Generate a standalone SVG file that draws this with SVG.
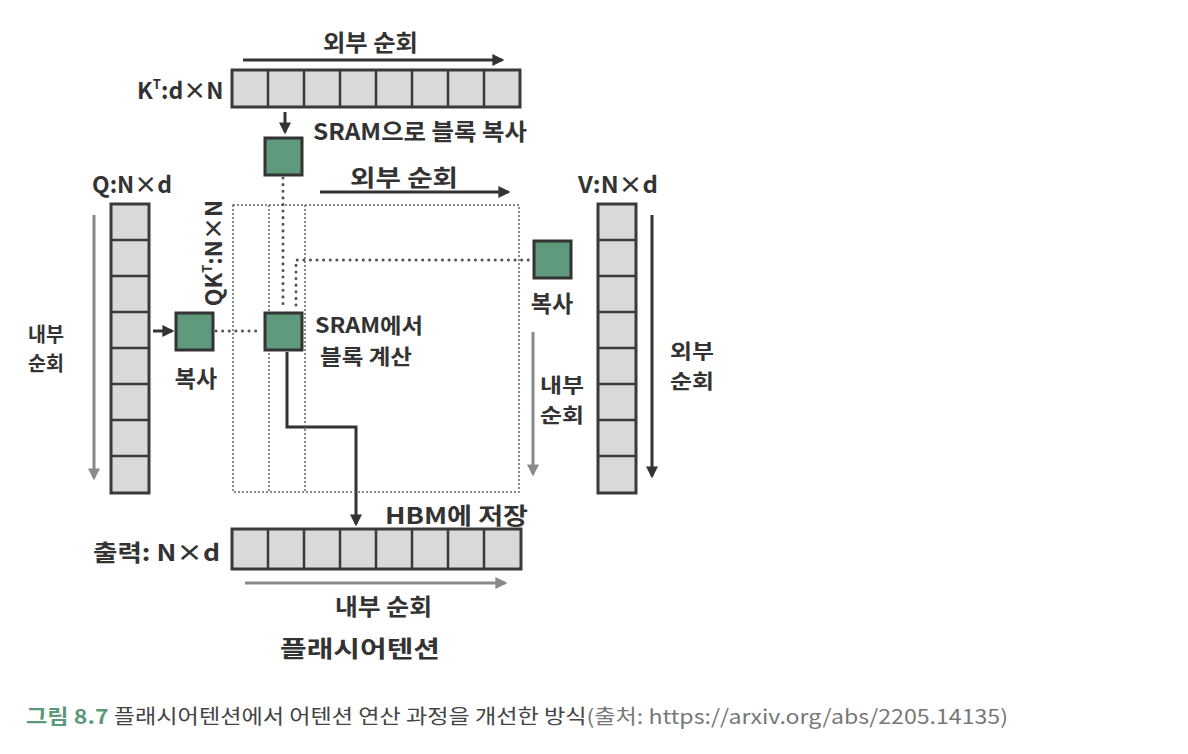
<svg xmlns="http://www.w3.org/2000/svg" width="1188" height="754" viewBox="0 0 1188 754">
<defs>
<style>
.t{font-family:"Noto Sans CJK KR","Noto Sans",sans-serif;font-weight:700;fill:#333;font-size:23px}
.t2{font-family:"Noto Sans CJK KR","Noto Sans",sans-serif;font-weight:700;fill:#333;font-size:20px;text-anchor:middle}
.t3{font-family:"Noto Sans CJK KR","Noto Sans",sans-serif;font-weight:700;fill:#333;font-size:21px}
.bar{fill:#d9d9d9;stroke:#3a3a3a;stroke-width:3}
.cell{stroke:#3a3a3a;stroke-width:2.5}
.blk{fill:#5f9a7c;stroke:#333;stroke-width:3}
.dot{fill:none;stroke:#666;stroke-width:1.5;stroke-dasharray:2 2}
.hdot{fill:none;stroke:#555;stroke-width:3;stroke-dasharray:0.1 6.5;stroke-linecap:round}
.dark{stroke:#333;stroke-width:3;fill:none}
.gray{stroke:#8a8a8a;stroke-width:3;fill:none}
</style>
<marker id="ad" viewBox="0 0 10 10" refX="8" refY="5" markerWidth="4" markerHeight="4" orient="auto"><path d="M0,0 L10,5 L0,10 z" fill="#333"/></marker>
<marker id="ag" viewBox="0 0 10 10" refX="8" refY="5" markerWidth="4" markerHeight="4" orient="auto"><path d="M0,0 L10,5 L0,10 z" fill="#8a8a8a"/></marker>
</defs>
<rect width="1188" height="754" fill="#fff"/>

<g id="connectors">
<line class="dark" x1="243" y1="60" x2="502" y2="60" marker-end="url(#ad)"/>
<line class="dark" x1="285" y1="112" x2="285" y2="132" stroke-width="2.5" marker-end="url(#ad)"/>
<line class="dark" x1="320" y1="192" x2="508" y2="192" marker-end="url(#ad)"/>
<line class="gray" x1="94" y1="215" x2="94" y2="478" marker-end="url(#ag)"/>
<line class="dark" x1="153" y1="331" x2="172" y2="331" stroke-width="2.5" marker-end="url(#ad)"/>
<line class="gray" x1="533" y1="332" x2="533" y2="474" marker-end="url(#ag)"/>
<line class="dark" x1="652" y1="215" x2="652" y2="476" marker-end="url(#ad)"/>
<polyline class="dark" points="287,352 287,427 356,427 356,524" marker-end="url(#ad)"/>
<line class="gray" x1="245" y1="583" x2="505" y2="583" marker-end="url(#ag)"/>
<rect class="dot" x="233" y="205" width="286" height="287"/>
<line class="dot" x1="269" y1="205" x2="269" y2="492"/>
<line class="dot" x1="305" y1="205" x2="305" y2="492"/>
<line class="hdot" x1="216" y1="331" x2="258" y2="331"/>
<line class="hdot" x1="283" y1="178" x2="283" y2="308"/>
<polyline class="hdot" points="296,305 296,260 530,260"/>
</g>

<g id="kt">
<rect class="bar" x="232" y="70" width="288" height="37"/>
<path class="cell" d="M268,70V107M304,70V107M340,70V107M376,70V107M412,70V107M448,70V107M484,70V107"/>
<text class="t" x="137" y="99">K<tspan font-size="13" dy="-10">T</tspan><tspan dy="10">:d×N</tspan></text>
<text class="t" x="323" y="51" textLength="95" lengthAdjust="spacingAndGlyphs">외부 순회</text>
</g>

<g id="q">
<rect class="bar" x="111" y="204" width="38" height="289"/>
<path class="cell" d="M111,240H149M111,276H149M111,312H149M111,348H149M111,384H149M111,420H149M111,456H149"/>
<text class="t" x="92" y="193" textLength="80" lengthAdjust="spacingAndGlyphs">Q:N×d</text>
<text class="t2" x="46" y="342" textLength="36" lengthAdjust="spacingAndGlyphs">내부</text>
<text class="t2" x="46" y="371" textLength="36" lengthAdjust="spacingAndGlyphs">순회</text>
</g>

<g id="v">
<rect class="bar" x="598" y="204" width="38" height="289"/>
<path class="cell" d="M598,240H636M598,276H636M598,312H636M598,348H636M598,384H636M598,420H636M598,456H636"/>
<text class="t" x="578" y="193" textLength="80" lengthAdjust="spacingAndGlyphs">V:N×d</text>
<text class="t2" x="692" y="359" textLength="44" lengthAdjust="spacingAndGlyphs">외부</text>
<text class="t2" x="692" y="389" textLength="44" lengthAdjust="spacingAndGlyphs">순회</text>
</g>

<g id="out">
<rect class="bar" x="232" y="529" width="289" height="40"/>
<path class="cell" d="M268,529V569M304,529V569M340,529V569M376,529V569M412,529V569M448,529V569M484,529V569"/>
<text class="t" x="93" y="561" textLength="127" lengthAdjust="spacingAndGlyphs">출력: N×d</text>
<text class="t" x="385" y="524" textLength="143" lengthAdjust="spacingAndGlyphs">HBM에 저장</text>
<text class="t" x="335" y="615" textLength="97" lengthAdjust="spacingAndGlyphs">내부 순회</text>
<text class="t" x="280" y="657" font-size="26" textLength="160" lengthAdjust="spacingAndGlyphs">플래시어텐션</text>
</g>

<g id="kblock">
<rect class="blk" x="265" y="138" width="37" height="37"/>
<text class="t" x="313" y="140" textLength="214" lengthAdjust="spacingAndGlyphs">SRAM으로 블록 복사</text>
<text class="t" x="350" y="186" textLength="108" lengthAdjust="spacingAndGlyphs">외부 순회</text>
</g>

<g id="qblock">
<rect class="blk" x="176" y="313" width="37" height="37"/>
<text class="t" x="196" y="387" text-anchor="middle">복사</text>
</g>

<g id="sblock">
<rect class="blk" x="265" y="313" width="37" height="37"/>
<text class="t3" x="315" y="333" textLength="108" lengthAdjust="spacingAndGlyphs">SRAM에서</text>
<text class="t3" x="320" y="364" textLength="92" lengthAdjust="spacingAndGlyphs">블록 계산</text>
<text class="t" transform="translate(222,253) rotate(-90)" text-anchor="middle">QK<tspan font-size="13" dy="-10">T</tspan><tspan dy="10">:N×N</tspan></text>
</g>

<g id="vblock">
<rect class="blk" x="534" y="241" width="37" height="37"/>
<text class="t" x="552" y="312" text-anchor="middle">복사</text>
<text class="t2" x="562" y="393" textLength="44" lengthAdjust="spacingAndGlyphs">내부</text>
<text class="t2" x="562" y="423" textLength="44" lengthAdjust="spacingAndGlyphs">순회</text>
</g>

<g id="caption">
<text x="26" y="724" font-family="'Noto Sans CJK KR','Noto Sans',sans-serif" font-size="20" fill="#444" textLength="982" lengthAdjust="spacingAndGlyphs"><tspan fill="#5a9a7a" font-weight="700">그림 8.7</tspan> 플래시어텐션에서 어텐션 연산 과정을 개선한 방식<tspan fill="#777">(출처: https://arxiv.org/abs/2205.14135)</tspan></text>
</g>
</svg>
